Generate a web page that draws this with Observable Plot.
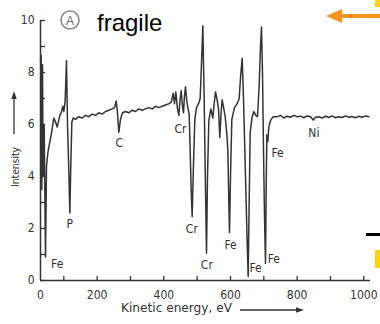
<!DOCTYPE html>
<html>
<head>
<meta charset="utf-8">
<script src="https://cdn.jsdelivr.net/npm/d3@7"></script>
<script src="https://cdn.jsdelivr.net/npm/@observablehq/plot@0.6"></script>
<style>
  html, body { margin: 0; padding: 0; background: #fff; }
  #wrap { position: relative; width: 380px; height: 324px; overflow: hidden; }
  #deco { position: absolute; left: 0; top: 0; pointer-events: none; }
</style>
</head>
<body>
<div id="wrap"></div>
<script>
// ---- data ----
const energyEV = [30, 32, 34, 36, 38, 41, 45, 48, 52, 56, 62, 70, 75, 80, 88, 92, 97, 100, 104, 108, 111, 115, 118, 121, 124, 128,
  135, 145, 155, 165, 175, 185, 195, 205, 215, 225, 235, 245, 252, 257, 260, 265, 270, 276,
  285, 295, 305, 315, 325, 335, 345, 355, 365, 375, 385, 395, 405, 415, 422,
  428, 432, 436, 441, 445, 449, 452, 456, 459, 462, 465, 469, 472, 476, 479, 482, 485, 489, 493, 498, 504, 509, 512, 517, 521, 525, 528,
  531, 535, 541, 547, 551, 555, 560, 564, 568, 572, 575, 580, 584, 589, 592, 595, 597, 600, 604, 612, 620, 626, 630, 635, 639, 643, 646, 650, 653,
  656, 659, 665, 670, 676, 681, 686, 690, 693, 696, 699, 702, 705, 707, 709, 712, 715, 720, 728,
  740, 750, 760, 770, 780, 790, 800, 810, 820, 830, 840, 848, 855, 865, 875, 885, 895, 905, 915, 925, 935, 945, 955, 965, 975, 985, 995, 1005, 1015];
const intensity = [8.5, 8.65, 3.5, 8.3, 4.0, 6.0, 0.9, 4.4, 4.9, 5.2, 5.6, 6.25, 6.1, 5.9, 6.35, 6.45, 6.7, 6.5, 6.9, 8.45, 6.0, 4.2, 2.6, 4.5, 6.1, 6.25,
  6.2, 6.3, 6.25, 6.35, 6.3, 6.4, 6.35, 6.45, 6.4, 6.5, 6.55, 6.6, 6.65, 6.9, 6.6, 5.7, 6.2, 6.45,
  6.5, 6.45, 6.55, 6.5, 6.6, 6.55, 6.6, 6.65, 6.6, 6.7, 6.65, 6.7, 6.75, 6.8, 6.85,
  7.2, 6.8, 7.25, 6.6, 6.35, 7.0, 7.3, 6.7, 6.45, 7.1, 7.45, 6.9, 6.65, 6.4, 5.0, 3.5, 2.45, 4.5, 6.2, 6.65, 6.8, 7.0, 8.0, 9.8, 7.0, 3.5, 1.05,
  4.0, 6.15, 6.6, 6.25, 6.8, 7.25, 6.95, 6.6, 5.5, 6.5, 6.95, 6.6, 6.3, 5.65, 5.0, 3.0, 1.85, 4.0, 6.2, 6.65, 6.8, 7.0, 7.8, 8.55, 7.0, 5.0, 3.5, 1.5, 0.15,
  3.0, 5.7, 6.3, 6.5, 6.35, 6.3, 7.5, 9.0, 9.75, 8.0, 5.0, 2.5, 0.65, 3.5, 5.6, 5.35, 5.9, 6.15, 6.3,
  6.3, 6.35, 6.25, 6.32, 6.28, 6.35, 6.3, 6.32, 6.26, 6.33, 6.3, 6.17, 6.28, 6.3, 6.25, 6.32, 6.27, 6.33, 6.26, 6.3, 6.27, 6.33, 6.28, 6.31, 6.26, 6.32, 6.28, 6.33, 6.3];

const peakLabels = ["Fe", "P", "C", "Cr", "Cr", "Cr", "Fe", "Fe", "Fe", "Fe", "Ni"];
const peakLabelE = [80, 118, 266, 450, 484, 529, 600, 675, 730, 741, 850];
const peakLabelI = [0.62, 2.17, 5.27, 5.84, 1.99, 0.58, 1.36, 0.46, 0.82, 4.9, 5.65];

const xDomain = [30, 1020];
const yDomain = [0, 10];
const xTicks = [100, 200, 300, 400, 500, 600, 700, 800, 900, 1000];
const xTickLabels = [200, 400, 600, 800, 1000];
const yTicks = [0, 1, 2, 3, 4, 5, 6, 7, 8, 9, 10];
const yTickLabels = [0, 2, 4, 6, 8, 10];
const xOriginLabel = "0";

const spectrum = energyEV.map((e, i) => ({e, v: intensity[i]}));
const labels = peakLabels.map((t, i) => ({t, e: peakLabelE[i], v: peakLabelI[i]}));

const ink = "#333";
const chart = Plot.plot({
  width: 380,
  height: 324,
  marginLeft: 40,
  marginRight: 10,
  marginTop: 20,
  marginBottom: 44,
  x: {domain: xDomain},
  y: {domain: yDomain},
  style: {fontFamily: "'DejaVu Sans Condensed', 'DejaVu Sans', sans-serif", fontSize: "12px", color: ink, background: "transparent"},
  marks: [
    Plot.ruleX([xDomain[0]], {stroke: ink, strokeWidth: 1.5}),
    Plot.ruleY([yDomain[0]], {stroke: ink, strokeWidth: 1.5}),
    Plot.axisY(yTicks, {tickSize: -5, tickPadding: 11, strokeWidth: 1.3, stroke: ink, fill: ink,
      tickFormat: d => yTickLabels.includes(d) ? String(d) : "", label: null}),
    Plot.axisX(xTicks, {tickSize: -4, tickPadding: 14, strokeWidth: 1.3, stroke: ink, fill: ink,
      tickFormat: d => xTickLabels.includes(d) ? String(d) : "", label: null}),
    Plot.axisX([xDomain[0]], {tickSize: 0, tickPadding: 10, fill: ink, tickFormat: () => xOriginLabel, label: null}),
    Plot.line(spectrum, {x: "e", y: "v", stroke: ink, strokeWidth: 1.5, curve: "linear"}),
    Plot.text(labels, {x: "e", y: "v", text: "t", fill: ink, fontSize: 12})
  ]
});

const wrap = document.getElementById("wrap");
wrap.appendChild(chart);

// decorations and axis titles (overlay)
const deco = d3.select(wrap).append("svg").attr("id", "deco").attr("width", 380).attr("height", 324);

// title: circled A + fragile
deco.append("circle").attr("cx", 70).attr("cy", 20).attr("r", 9).attr("fill", "none").attr("stroke", "#8a8a8a").attr("stroke-width", 1.6);
deco.append("text").attr("x", 70).attr("y", 24.5).attr("text-anchor", "middle")
  .attr("font-family", "'Liberation Sans', Arial, sans-serif").attr("font-size", 12).attr("fill", "#6a6a6a").text("A");
deco.append("text").attr("x", 97).attr("y", 31).attr("font-family", "'Liberation Sans', Arial, sans-serif")
  .attr("font-size", 24).attr("fill", "#000").text("fragile");

// orange arrow + crop artifacts
deco.append("rect").attr("x", 340).attr("y", 14).attr("width", 40).attr("height", 4).attr("fill", "#F7941D");
deco.append("polygon").attr("points", "326,16 342,9 342,23").attr("fill", "#F7941D");
deco.append("rect").attr("x", 375).attr("y", 0).attr("width", 5).attr("height", 7).attr("fill", "#FFD400");
deco.append("rect").attr("x", 366).attr("y", 233).attr("width", 14).attr("height", 3).attr("fill", "#000");
deco.append("rect").attr("x", 375).attr("y", 250).attr("width", 5).attr("height", 18).attr("fill", "#FFD400");

// axis titles with arrows
const fam = "'DejaVu Sans Condensed', 'DejaVu Sans', sans-serif";
deco.append("text").attr("transform", "translate(19,167) rotate(-90)").attr("text-anchor", "middle")
  .attr("font-family", fam).attr("font-size", 11).attr("fill", ink)
  .attr("textLength", 40).attr("lengthAdjust", "spacingAndGlyphs").text("Intensity");
deco.append("line").attr("x1", 14).attr("x2", 14).attr("y1", 134).attr("y2", 97).attr("stroke", ink).attr("stroke-width", 1.3);
deco.append("polygon").attr("points", "14,91 11.3,99 16.7,99").attr("fill", ink);

deco.append("text").attr("x", 121).attr("y", 312).attr("font-family", fam).attr("font-size", 11.5).attr("fill", ink)
  .attr("textLength", 111).attr("lengthAdjust", "spacingAndGlyphs").text("Kinetic energy, eV");
deco.append("line").attr("x1", 240).attr("x2", 297).attr("y1", 310).attr("y2", 310).attr("stroke", ink).attr("stroke-width", 1.3);
deco.append("polygon").attr("points", "304,310 296,307.3 296,312.7").attr("fill", ink);
</script>
</body>
</html>
